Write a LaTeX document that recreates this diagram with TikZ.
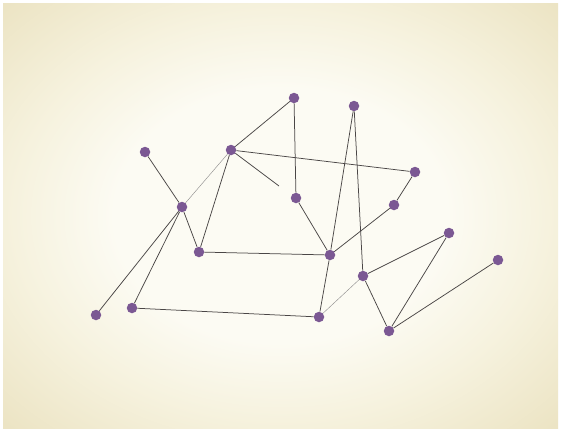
\documentclass[tikz,border=0pt]{standalone}
\definecolor{nodepurple}{HTML}{7B5893}
\definecolor{linegray}{HTML}{4A4646}
\definecolor{paperin}{HTML}{FCFBF3}
\definecolor{papermid}{HTML}{F6F2DE}
\definecolor{paperout}{HTML}{ECE4C4}
\pgfdeclareradialshading{paperbg}{\pgfpoint{0bp}{0bp}}{color(0bp)=(paperin); color(15bp)=(paperin); color(24bp)=(papermid); color(35bp)=(paperout); color(50bp)=(paperout)}
\begin{document}
\begin{tikzpicture}[x=1pt,y=-1pt,
  dot/.style={circle,fill=nodepurple,draw=none,minimum size=10.5pt,inner sep=0pt},
  link/.style={draw=linegray,line width=0.75pt},
  faint/.style={draw=linegray!60,line width=0.45pt}]
\useasboundingbox (0,0) rectangle (561,431);
\fill[white] (0,0) rectangle (561,431);
\shade[shading=paperbg] (3,3) rectangle (558,428);
% nodes
\node[dot] (A) at (294,98) {};
\node[dot] (B) at (354,106) {};
\node[dot] (C) at (145,152) {};
\node[dot] (D) at (231,150) {};
\node[dot] (E) at (415,172) {};
\node[dot] (F) at (296,198) {};
\node[dot] (G) at (182,207) {};
\node[dot] (H) at (394,205) {};
\node[dot] (I) at (449,233) {};
\node[dot] (J) at (199,252) {};
\node[dot] (K) at (330,255) {};
\node[dot] (L) at (498,260) {};
\node[dot] (M) at (363,276) {};
\node[dot] (N) at (96,315) {};
\node[dot] (O) at (132,308) {};
\node[dot] (P) at (319,317) {};
\node[dot] (Q) at (389,331) {};
\coordinate (Dend) at (279,186);
% edges
\draw[link] (A) -- (D);
\draw[link] (A) -- (F);
\draw[link] (D) -- (E);
\draw[link] (D) -- (Dend);
\draw[faint] (D) -- (G);
\draw[link] (D) -- (J);
\draw[link] (C) -- (G);
\draw[link] (G) -- (N);
\draw[link] (G) -- (O);
\draw[link] (G) -- (J);
\draw[link] (E) -- (H);
\draw[link] (H) -- (K);
\draw[link] (F) -- (K);
\draw[link] (J) -- (K);
\draw[link] (B) -- (K);
\draw[link] (B) -- (M);
\draw[link] (K) -- (P);
\draw[link] (O) -- (P);
\draw[faint] (P) -- (M);
\draw[link] (M) -- (I);
\draw[link] (M) -- (Q);
\draw[link] (I) -- (Q);
\draw[link] (L) -- (Q);
\end{tikzpicture}
\end{document}
